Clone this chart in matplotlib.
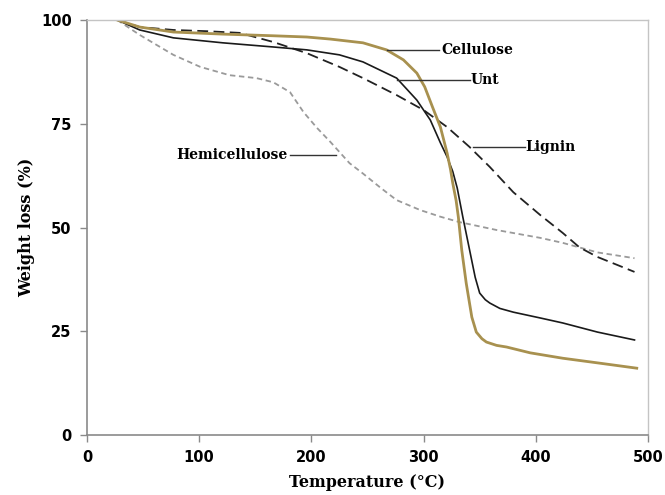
import matplotlib
matplotlib.use("Agg")
import matplotlib.pyplot as plt

# Data
cel_T = [27, 47, 77, 121, 166, 196, 217, 246, 267, 282, 294, 301, 308, 315, 321, 324, 326, 329, 331, 334, 338, 343, 347, 352, 356, 365, 374, 395, 424, 460, 490]
cel_W = [100, 98.3, 97.1, 96.6, 96.2, 95.9, 95.4, 94.5, 92.8, 90.4, 87.2, 83.9, 79.0, 74.2, 67.9, 64.0, 60.7, 56.5, 52.5, 44.6, 36.6, 28.4, 24.8, 23.2, 22.4, 21.6, 21.2, 19.8, 18.5, 17.2, 16.1]

unt_T = [27, 47, 77, 121, 166, 196, 225, 246, 276, 294, 306, 315, 321, 326, 330, 335, 341, 346, 350, 355, 359, 368, 380, 404, 424, 455, 488]
unt_W = [100, 97.6, 95.7, 94.5, 93.5, 92.8, 91.6, 89.9, 86.0, 80.7, 75.9, 70.4, 67.0, 63.5, 59.5, 52.5, 44.6, 38.0, 34.2, 32.6, 31.8, 30.5, 29.6, 28.2, 27.0, 24.8, 22.9]

lig_T = [27, 47, 77, 107, 136, 166, 196, 225, 246, 276, 300, 321, 341, 359, 380, 404, 424, 439, 455, 488]
lig_W = [100, 98.3, 97.6, 97.3, 96.9, 94.7, 92.0, 88.7, 86.0, 81.9, 78.3, 74.2, 69.4, 64.6, 58.5, 53.0, 48.7, 45.2, 42.9, 39.3]

hem_T = [27, 47, 77, 101, 127, 151, 166, 181, 193, 205, 217, 225, 234, 246, 262, 276, 297, 315, 332, 365, 404, 424, 455, 488]
hem_W = [100, 96.4, 91.6, 88.7, 86.7, 86.0, 85.0, 82.6, 77.8, 74.0, 70.6, 68.2, 65.5, 63.0, 59.5, 56.6, 54.2, 52.6, 51.3, 49.4, 47.5, 46.3, 44.0, 42.6]

x_ticks = [0, 100, 200, 300, 400, 500]
y_ticks = [0, 25, 50, 75, 100]

fig = plt.figure(figsize=(6.65, 4.95), dpi=100)
ax = fig.add_axes([0.1308, 0.1212, 0.8436, 0.8384])

ax.plot(hem_T, hem_W, color="#9a9a9a", lw=1.3, dashes=(3, 2))
ax.plot(lig_T, lig_W, color="#222222", lw=1.3, dashes=(6, 3))
ax.plot(unt_T, unt_W, color="#1a1a1a", lw=1.2)
ax.plot(cel_T, cel_W, color="#a8914f", lw=2.0)

ax.set_xlim(0, 500)
ax.set_ylim(0, 100)
ax.set_xticks(x_ticks)
ax.set_yticks(y_ticks)

for s in ["left", "bottom"]:
    ax.spines[s].set_color("#8a8a8a")
    ax.spines[s].set_linewidth(1.2)
for s in ["top", "right"]:
    ax.spines[s].set_color("#c4c4c4")
    ax.spines[s].set_linewidth(1.0)

ax.tick_params(axis="both", direction="out", length=5, width=1, color="#8a8a8a",
               labelsize=10.5, pad=6)
for lab in ax.get_xticklabels() + ax.get_yticklabels():
    lab.set_fontweight("bold")
    lab.set_family("DejaVu Sans")

serif = "DejaVu Serif"
ax.set_xlabel("Temperature (°C)", fontsize=11.5, fontweight="bold", family=serif, labelpad=6)
ax.set_ylabel("Weight loss (%)", fontsize=11.5, fontweight="bold", family=serif, labelpad=4)

# Annotation labels with leader lines
lab_kw = dict(fontsize=10, family=serif, fontweight="bold", va="center")
ax.plot([267, 314], [92.8, 92.8], color="#333333", lw=1)
ax.text(316, 92.8, "Cellulose", ha="left", **lab_kw)
ax.plot([276, 341], [85.5, 85.5], color="#333333", lw=1)
ax.text(342, 85.5, "Unt", ha="left", **lab_kw)
ax.plot([344, 390], [69.4, 69.4], color="#333333", lw=1)
ax.text(391, 69.4, "Lignin", ha="left", **lab_kw)
ax.plot([181, 222], [67.5, 67.5], color="#333333", lw=1)
ax.text(179, 67.5, "Hemicellulose", ha="right", **lab_kw)

fig.savefig("out.png", dpi=100)
